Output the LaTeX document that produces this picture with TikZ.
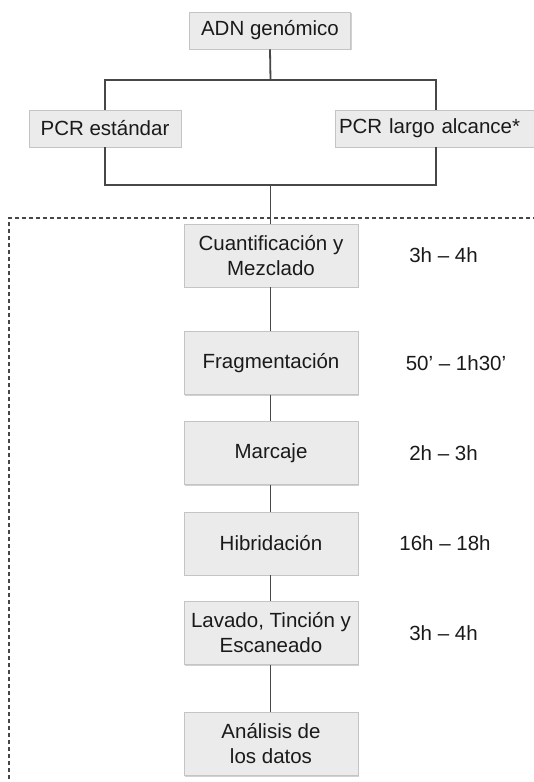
\documentclass[tikz,border=0pt]{standalone}
\usepackage{fontspec}
\setmainfont{Liberation Sans}
\usetikzlibrary{shadows}
\definecolor{boxfill}{HTML}{EBEBEB}
\definecolor{boxline}{HTML}{C4C4C4}
\definecolor{linkline}{HTML}{474747}
\definecolor{txt}{HTML}{1A1A1A}
\begin{document}
\begin{tikzpicture}[x=1pt,y=-1pt,
  every node/.style={text=txt,font=\fontsize{20.5}{25}\selectfont},
  stepbox/.style={draw=boxline,fill=boxfill,line width=0.8pt,rectangle,
    inner sep=0pt,align=center,
    drop shadow={shadow xshift=1.2pt,shadow yshift=-1.2pt,fill=black!18,opacity=1}},
  topbox/.style={stepbox,minimum height=37pt},
  flowbox/.style={stepbox,minimum width=174pt,minimum height=63pt},
  timelabel/.style={anchor=center},
  link/.style={draw=linkline,line width=1.8pt}]
\useasboundingbox (0,0) rectangle (534,782);
\clip (0,0) rectangle (534,782);

% enclosing dashed frame of the array workflow
\draw[linkline,line width=1.3pt,dash pattern=on 4pt off 3pt] (9,800) -- (9,218) -- (560,218);

% starting material and amplification
\node[topbox,minimum width=161pt] (adn) at (270,30.5) {ADN genómico};
\node[topbox,minimum width=152pt] (pe) at (105,128.5) {PCR estándar};
\node[topbox,minimum width=202pt,text width=194pt,align=left] (pl) at (436,128.5) {PCR largo alcance*};

% workflow steps
\node[flowbox] (c1) at (271,255.5) {Cuantificación y\\Mezclado};
\node[flowbox] (c2) at (271,363) {Fragmentación};
\node[flowbox] (c3) at (271,453) {Marcaje};
\node[flowbox] (c4) at (271,543.5) {Hibridación};
\node[flowbox] (c5) at (271,633) {Lavado, Tinción y\\Escaneado};
\node[flowbox] (c6) at (271,744) {Análisis de\\los datos};

% durations
\node[timelabel] (t1) at (443.5,255.5) {3h – 4h};
\node[timelabel] (t2) at (456,363) {50’ – 1h30’};
\node[timelabel] (t3) at (443.5,453) {2h – 3h};
\node[timelabel] (t4) at (445,543.5) {16h – 18h};
\node[timelabel] (t5) at (443.5,633) {3h – 4h};

% connectors
\coordinate (split) at (270.5,80);
\coordinate (join) at (270.5,185);
\draw[link] (adn.south) -- (split);
\draw[link] (pe.north) |- (split) -| (pl.north);
\draw[link] (pe.south) |- (join) -| (pl.south);
\draw[link] (join) -- (join |- c1.north);
\draw[link] (c1.south -| join) -- (c2.north -| join);
\draw[link] (c2.south -| join) -- (c3.north -| join);
\draw[link] (c3.south -| join) -- (c4.north -| join);
\draw[link] (c4.south -| join) -- (c5.north -| join);
\draw[link] (c5.south -| join) -- (c6.north -| join);
\end{tikzpicture}
\end{document}
